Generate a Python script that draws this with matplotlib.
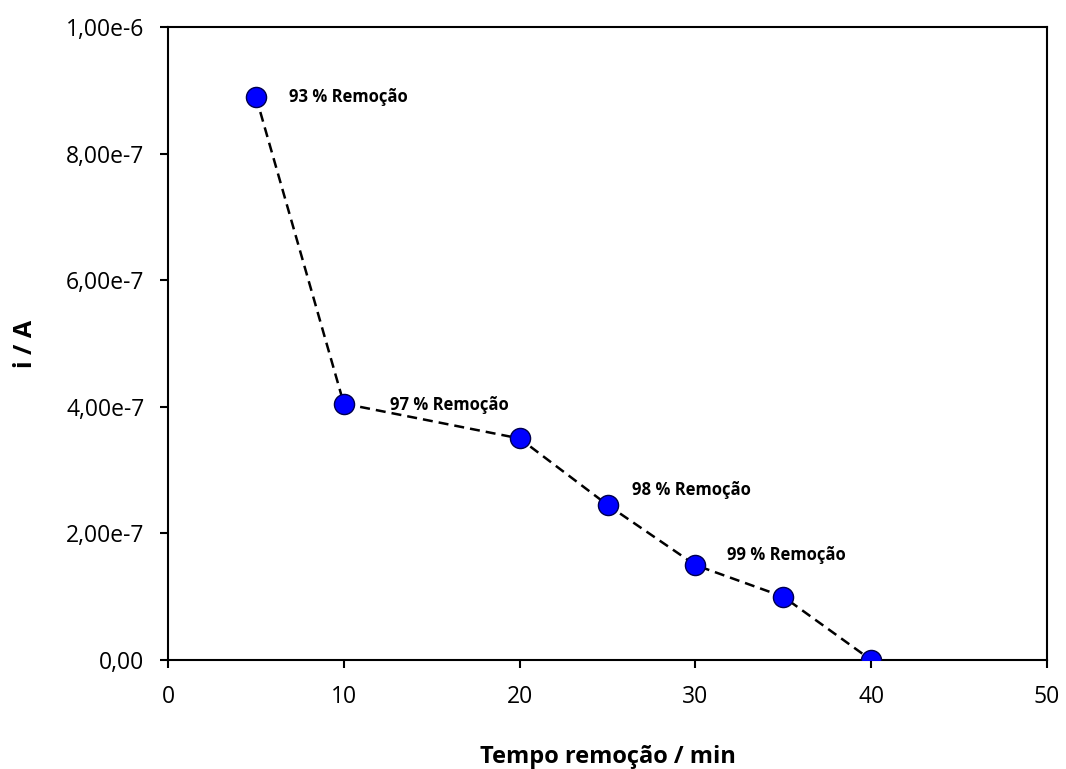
import matplotlib.pyplot as plt
from matplotlib.ticker import FuncFormatter, MultipleLocator

plt.rcParams['font.family'] = ['Open Sans', 'DejaVu Sans']

# removal time (min) and measured current (A)
tempo = [5, 10, 20, 25, 30, 35, 40]
corrente = [8.9e-7, 4.05e-7, 3.5e-7, 2.45e-7, 1.5e-7, 1.0e-7, 0.0]

# percentage removal notes
notas = ['93 % Remoção', '97 % Remoção', '98 % Remoção', '99 % Remoção']
notas_x = [6.9, 12.6, 26.4, 31.8]
notas_y = [8.9e-7, 4.03e-7, 2.69e-7, 1.66e-7]


def fmt_y(v, pos):
    if v == 0:
        return '0,00'
    mant, exp = f'{v:.2e}'.split('e')
    return f"{mant.replace('.', ',')}e{int(exp)}"


fig = plt.figure(figsize=(10.66, 7.69), dpi=100)
ax = fig.add_axes([0.1576, 0.1417, 0.8246, 0.8232])

ax.plot(tempo, corrente, color='black', linestyle=(0, (4, 2.4)), linewidth=1.8, zorder=2)
ax.plot(tempo, corrente, linestyle='none', marker='o', markersize=14.5,
        markerfacecolor='#0000ff', markeredgecolor='#00004d', markeredgewidth=1, zorder=3)

for txt, tx, ty in zip(notas, notas_x, notas_y):
    ax.text(tx, ty, txt, fontsize=12, fontweight='bold', va='center', ha='left')

ax.set_xlim(0, 50)
ax.set_ylim(0, 1e-6)
ax.xaxis.set_major_locator(MultipleLocator(10))
ax.yaxis.set_major_locator(MultipleLocator(2e-7))
ax.yaxis.set_major_formatter(FuncFormatter(fmt_y))

for s in ax.spines.values():
    s.set_linewidth(1.5)
ax.tick_params(direction='out', length=6, width=1.5, labelsize=16.5)
ax.tick_params(axis='x', pad=12)
ax.tick_params(axis='y', pad=11)

ax.set_xlabel('Tempo remoção / min', fontsize=17, fontweight='bold', labelpad=26)
ax.set_ylabel('i / A', fontsize=18, fontweight='bold', labelpad=20)

fig.savefig('out.png', dpi=100)
